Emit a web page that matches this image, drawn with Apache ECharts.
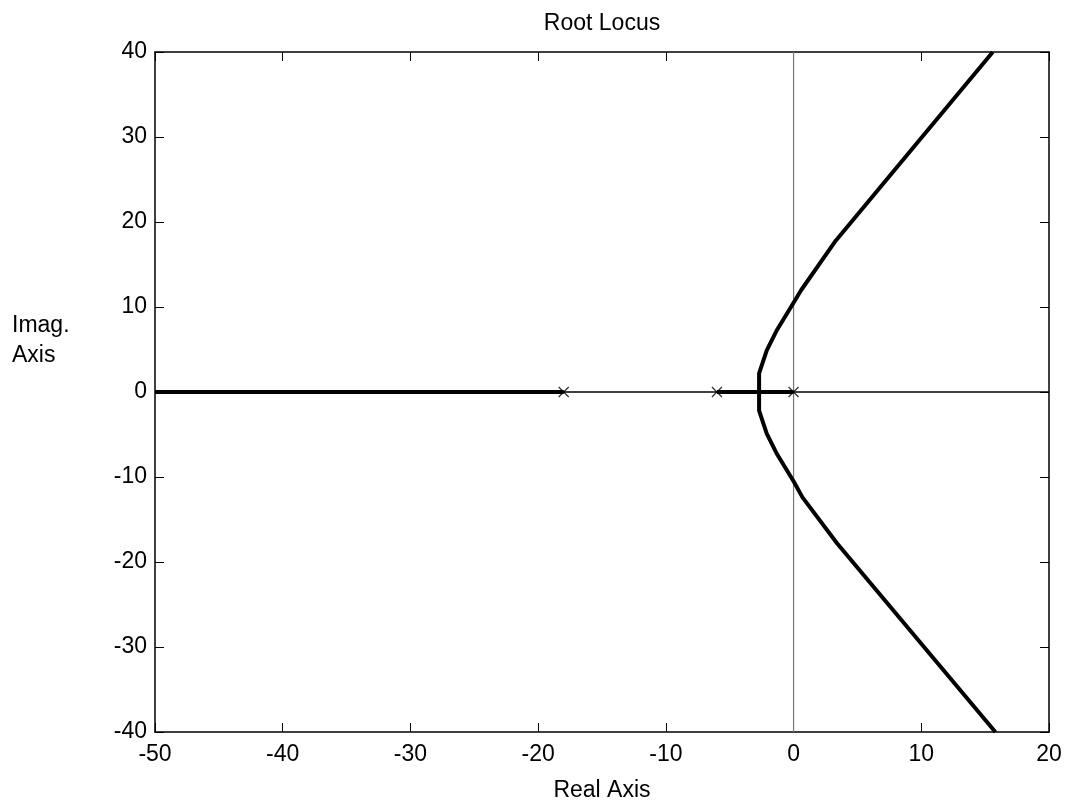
<!DOCTYPE html>
<html>
<head>
<meta charset="utf-8">
<script src="https://cdn.jsdelivr.net/npm/echarts@6/dist/echarts.min.js"></script>
<style>
html,body{margin:0;padding:0;background:#fff;}
#chart{width:1065px;height:802px;}
</style>
</head>
<body>
<div id="chart"></div>
<script>
// Data
const xTicks = [-50, -40, -30, -20, -10, 0, 10, 20];
const yTicks = [-40, -30, -20, -10, 0, 10, 20, 30, 40];
const poles = [-18, -6, 0];
const realLocusLeftX = [-50, -18];
const realLocusMidX = [-6, 0];
const upperX = [-2.7, -2.7, -2.1, -1.3, 0, 0.6, 3.3, 15.6];
const upperY = [0, 2.2, 4.9, 7.3, 10.5, 12.0, 17.8, 40];
const lowerX = [-2.7, -2.7, -2.1, -1.3, 0, 0.7, 3.4, 15.8];
const lowerY = [0, -2.2, -4.9, -7.3, -10.5, -12.4, -17.8, -40];

const FONT = 'Liberation Sans, Arial, sans-serif';
const FS = 23;

const pair = (xs, ys) => xs.map((x, i) => [x, ys[i]]);

const chart = echarts.init(document.getElementById('chart'), null, {renderer: 'canvas'});

const axisLineStyle = {color: '#000', width: 1.5};
const option = {
  animation: false,
  backgroundColor: '#fff',
  grid: {left: 155, right: 16, top: 52, bottom: 70, show: false},
  graphic: [
    {type: 'text', x: 602, y: 12, style: {text: 'Root Locus', font: FS + 'px ' + FONT, fill: '#000', textAlign: 'center'}},
    {type: 'text', x: 602, y: 779, style: {text: 'Real Axis', font: FS + 'px ' + FONT, fill: '#000', textAlign: 'center'}},
    {type: 'text', x: 12, y: 314, style: {text: 'Imag.', font: FS + 'px ' + FONT, fill: '#000'}},
    {type: 'text', x: 12, y: 344, style: {text: 'Axis', font: FS + 'px ' + FONT, fill: '#000'}}
  ],
  xAxis: [
    {type: 'value', position: 'bottom', min: xTicks[0], max: xTicks[xTicks.length-1], interval: 10,
     axisLine: {show: true, onZero: false, lineStyle: axisLineStyle},
     axisTick: {show: true, inside: true, length: 9, lineStyle: {color: '#000', width: 1}},
     axisLabel: {show: true, color: '#000', fontSize: FS, fontFamily: FONT, margin: 11},
     splitLine: {show: false}},
    {type: 'value', position: 'top', min: xTicks[0], max: xTicks[xTicks.length-1], interval: 10,
     axisLine: {show: true, onZero: false, lineStyle: axisLineStyle},
     axisTick: {show: true, inside: true, length: 9, lineStyle: {color: '#000', width: 1}},
     axisLabel: {show: false}, splitLine: {show: false}}
  ],
  yAxis: [
    {type: 'value', position: 'left', min: yTicks[0], max: yTicks[yTicks.length-1], interval: 10,
     axisLine: {show: true, onZero: false, lineStyle: axisLineStyle},
     axisTick: {show: true, inside: true, length: 9, lineStyle: {color: '#000', width: 1}},
     axisLabel: {show: true, color: '#000', fontSize: FS, fontFamily: FONT, margin: 8},
     splitLine: {show: false}},
    {type: 'value', position: 'right', min: yTicks[0], max: yTicks[yTicks.length-1], interval: 10,
     axisLine: {show: true, onZero: false, lineStyle: axisLineStyle},
     axisTick: {show: true, inside: true, length: 9, lineStyle: {color: '#000', width: 1}},
     axisLabel: {show: false}, splitLine: {show: false}}
  ],
  series: [
    {type: 'line', name: 'imagZero', data: [[0, yTicks[0]], [0, yTicks[yTicks.length-1]]], symbol: 'none',
     lineStyle: {color: '#777', width: 1.2}, z: 1},
    {type: 'line', name: 'realZero', data: [[xTicks[0], 0], [xTicks[xTicks.length-1], 0]], symbol: 'none',
     lineStyle: {color: '#000', width: 1.4}, z: 1},
    {type: 'line', name: 'realLeft', data: realLocusLeftX.map(x => [x, 0]), symbol: 'none',
     lineStyle: {color: '#000', width: 4}, z: 2},
    {type: 'line', name: 'realMid', data: realLocusMidX.map(x => [x, 0]), symbol: 'none',
     lineStyle: {color: '#000', width: 4}, z: 2},
    {type: 'line', name: 'upper', data: pair(upperX, upperY), symbol: 'none',
     lineStyle: {color: '#000', width: 4, join: 'round'}, z: 2},
    {type: 'line', name: 'lower', data: pair(lowerX, lowerY), symbol: 'none',
     lineStyle: {color: '#000', width: 4, join: 'round'}, z: 2},
    {type: 'scatter', name: 'poles', data: poles.map(p => [p, 0]),
     symbol: 'path://M0 0 L10 10 M10 0 L0 10', symbolSize: 10,
     itemStyle: {color: 'none', borderColor: '#000', borderWidth: 1.3}, z: 3}
  ]
};
chart.setOption(option);
</script>
</body>
</html>
